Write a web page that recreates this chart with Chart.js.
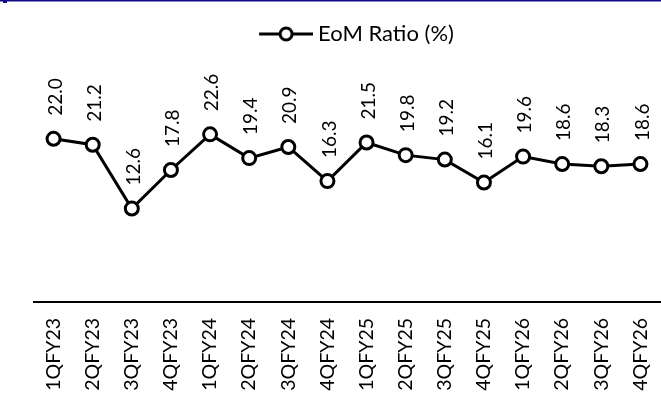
<!DOCTYPE html>
<html>
<head>
<meta charset="utf-8">
<script src="https://cdn.jsdelivr.net/npm/chart.js@4/dist/chart.umd.min.js"></script>
<style>
  html, body { margin: 0; padding: 0; background: #fff; }
  #wrap { width: 661px; height: 398px; position: relative; }
</style>
</head>
<body>
<div id="wrap"><canvas id="c"></canvas></div>
<script>
const quarters = ['1QFY23','2QFY23','3QFY23','4QFY23','1QFY24','2QFY24','3QFY24','4QFY24',
                  '1QFY25','2QFY25','3QFY25','4QFY25','1QFY26','2QFY26','3QFY26','4QFY26'];
const eomRatio = [22.0, 21.2, 12.6, 17.8, 22.6, 19.4, 20.9, 16.3,
                  21.5, 19.8, 19.2, 16.1, 19.6, 18.6, 18.3, 18.6];
const seriesName = 'EoM Ratio (%)';

const FONT = 'Lato, "Open Sans", sans-serif';

// Legend symbol: a short line with a hollow circle, on the right of a transparent strip
function legendSymbol() {
  const cv = document.createElement('canvas');
  cv.width = 79; cv.height = 18;
  const g = cv.getContext('2d');
  g.strokeStyle = '#000'; g.lineWidth = 3;
  g.beginPath(); g.moveTo(25, 9); g.lineTo(79, 9); g.stroke();
  g.fillStyle = '#fff';
  g.beginPath(); g.arc(52, 9, 6, 0, Math.PI * 2); g.fill(); g.stroke();
  return cv;
}

// Vertical value labels above each point
const valueLabels = {
  id: 'valueLabels',
  afterDatasetsDraw(chart) {
    const ctx = chart.ctx;
    const meta = chart.getDatasetMeta(0);
    ctx.save();
    ctx.fillStyle = '#000';
    ctx.font = '19px ' + FONT;
    ctx.textAlign = 'left';
    ctx.textBaseline = 'middle';
    meta.data.forEach((pt, i) => {
      ctx.save();
      ctx.translate(pt.x + 2, pt.y - 23);
      ctx.rotate(-Math.PI / 2);
      ctx.fillText(eomRatio[i].toFixed(1), 0, 0);
      ctx.restore();
    });
    ctx.restore();
  }
};

// Navy rule across the top edge
const topRule = {
  id: 'topRule',
  beforeDraw(chart) {
    const ctx = chart.ctx;
    ctx.save();
    ctx.fillStyle = '#140a88';
    ctx.fillRect(0, 0, chart.width, 1.5);
    ctx.fillRect(3, 0, 4, 3);
    ctx.restore();
  }
};

new Chart(document.getElementById('c'), {
  type: 'line',
  data: {
    labels: quarters,
    datasets: [{
      label: seriesName,
      data: eomRatio,
      borderColor: '#000',
      borderWidth: 3,
      pointRadius: 6.5,
      pointBorderWidth: 3,
      pointBackgroundColor: '#fff',
      pointBorderColor: '#000',
      tension: 0,
      clip: false
    }]
  },
  options: {
    responsive: true,
    maintainAspectRatio: false,
    animation: false,
    layout: { autoPadding: false, padding: { left: 34, right: 1, top: 15, bottom: 0 } },
    plugins: {
      legend: {
        position: 'top',
        labels: {
          usePointStyle: true,
          pointStyleWidth: 67,
          color: '#000',
          font: { family: FONT, size: 22 },
          padding: 8,
          generateLabels() {
            return [{
              text: seriesName,
              pointStyle: legendSymbol(),
              fillStyle: '#fff',
              strokeStyle: '#000',
              lineWidth: 0,
              datasetIndex: 0
            }];
          }
        }
      },
      tooltip: { enabled: false }
    },
    scales: {
      x: {
        offset: true,
        grid: { display: false, drawTicks: false },
        border: { display: true, color: '#000', width: 2 },
        ticks: {
          color: '#000',
          font: { family: FONT, size: 19.5 },
          maxRotation: 90, minRotation: 90,
          padding: 16,
          autoSkip: false
        },
        afterFit(scale) {
          scale.paddingLeft = 0;
          scale.paddingRight = 0;
          scale.height = 96;
        }
      },
      y: {
        display: false,
        min: 0,
        max: 33.3
      }
    }
  },
  plugins: [valueLabels, topRule]
});
</script>
</body>
</html>
